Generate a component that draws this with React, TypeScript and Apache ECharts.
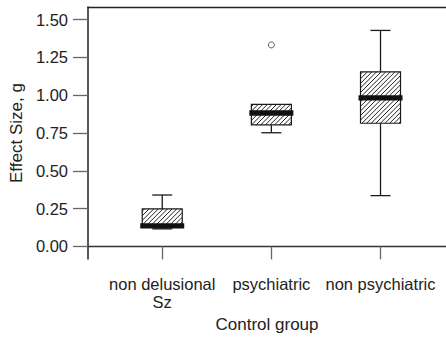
import React, { useEffect, useRef } from "react";
import * as echarts from "echarts";

const categories = ["non delusional\nSz", "psychiatric", "non psychiatric"];
const whiskerLow = [0.116, 0.752, 0.336];
const q1 = [0.125, 0.804, 0.815];
const median = [0.136, 0.883, 0.983];
const q3 = [0.248, 0.94, 1.155];
const whiskerHigh = [0.34, 0.94, 1.429];
const outliers = [[2, 1.333]];
const yTicks = [0, 0.25, 0.5, 0.75, 1, 1.25, 1.5];
const xTicks = [1, 2, 3];

const FONT = "Liberation Sans, Arial, sans-serif";

export default function App() {
  const ref = useRef<HTMLDivElement>(null);
  useEffect(() => {
    if (!ref.current) return;
    const chart = echarts.init(ref.current, null, { renderer: "svg" });
    const boxData = categories.map((_, i) => [
      i + 1,
      whiskerLow[i],
      q1[i],
      median[i],
      q3[i],
      whiskerHigh[i],
    ]);

    const renderItem = (params: any, api: any) => {
      const x = api.value(0);
      const lo = api.coord([x, api.value(1)]);
      const b1 = api.coord([x, api.value(2)]);
      const md = api.coord([x, api.value(3)]);
      const b3 = api.coord([x, api.value(4)]);
      const hi = api.coord([x, api.value(5)]);
      const cx = md[0];
      const boxW = 40;
      const capW = 20;
      const medW = 44;
      const x0 = cx - boxW / 2;
      const y0 = b3[1];
      const h = b1[1] - b3[1];
      const children: any[] = [];
      const lineStyle = { stroke: "#1a1a1a", lineWidth: 1.3 };
      if (hi[1] < y0 - 0.5) {
        children.push({ type: "line", shape: { x1: cx, y1: y0, x2: cx, y2: hi[1] }, style: lineStyle });
        children.push({ type: "line", shape: { x1: cx - capW / 2, y1: hi[1], x2: cx + capW / 2, y2: hi[1] }, style: lineStyle });
      }
      if (lo[1] > b1[1] + 0.5) {
        children.push({ type: "line", shape: { x1: cx, y1: b1[1], x2: cx, y2: lo[1] }, style: lineStyle });
        children.push({ type: "line", shape: { x1: cx - capW / 2, y1: lo[1], x2: cx + capW / 2, y2: lo[1] }, style: lineStyle });
      }
      children.push({ type: "rect", shape: { x: x0, y: y0, width: boxW, height: h }, style: { fill: "#fff", stroke: "none" } });
      const step = 4.6;
      const cStart = x0 + y0;
      const cEnd = x0 + boxW + y0 + h;
      for (let c = cStart + step / 2; c < cEnd; c += step) {
        const xa = Math.max(x0, c - (y0 + h));
        const xb = Math.min(x0 + boxW, c - y0);
        if (xb - xa < 0.3) continue;
        children.push({
          type: "line",
          shape: { x1: xa, y1: c - xa, x2: xb, y2: c - xb },
          style: { stroke: "#222", lineWidth: 1 },
        });
      }
      children.push({ type: "rect", shape: { x: x0, y: y0, width: boxW, height: h }, style: { fill: "none", stroke: "#1a1a1a", lineWidth: 1.2 } });
      children.push({ type: "rect", shape: { x: cx - medW / 2, y: md[1] - 2.7, width: medW, height: 5.4 }, style: { fill: "#111" } });
      return { type: "group", children };
    };

    chart.setOption({
      animation: false,
      textStyle: { fontFamily: FONT },
      grid: { left: 88, top: 7, right: 0, bottom: 73 },
      xAxis: [
        {
          type: "value",
          min: 0.32,
          max: 3.6,
          name: "Control group",
          nameLocation: "middle",
          nameGap: 51,
          nameTextStyle: { fontSize: 17, color: "#222", fontFamily: FONT },
          axisLine: { show: true, lineStyle: { color: "#333", width: 1.3 } },
          axisTick: { show: true, customValues: xTicks, length: 13, lineStyle: { color: "#666", width: 1.3 } },
          axisLabel: {
            customValues: xTicks,
            formatter: (v: number) => categories[Math.round(v) - 1] ?? "",
            fontSize: 16.5,
            lineHeight: 18,
            margin: 16,
            color: "#222",
            fontFamily: FONT,
          },
          splitLine: { show: false },
        },
        {
          type: "value",
          position: "top",
          min: 0.32,
          max: 3.6,
          axisLine: { show: true, lineStyle: { color: "#222", width: 1.3 } },
          axisTick: { show: false },
          axisLabel: { show: false },
          splitLine: { show: false },
        },
      ],
      yAxis: {
        type: "value",
        min: -0.084,
        max: 1.584,
        name: "Effect Size, g",
        nameLocation: "middle",
        nameGap: 62,
        nameTextStyle: { fontSize: 17, color: "#222", fontFamily: FONT },
        axisLine: { show: true, lineStyle: { color: "#222", width: 1.5 } },
        axisTick: { show: true, customValues: yTicks, length: 15, lineStyle: { color: "#666", width: 1.3 } },
        axisLabel: {
          customValues: yTicks,
          formatter: (v: number) => v.toFixed(2),
          fontSize: 16.5,
          margin: 20,
          color: "#222",
          fontFamily: FONT,
        },
        splitLine: { show: false },
      },
      series: [
        {
          type: "custom",
          xAxisIndex: 0,
          renderItem,
          data: boxData,
          encode: { x: 0, y: [1, 2, 3, 4, 5] },
          clip: false,
        },
        {
          type: "scatter",
          xAxisIndex: 0,
          data: outliers,
          symbol: "circle",
          symbolSize: 6,
          itemStyle: { color: "#fff", borderColor: "#333", borderWidth: 1 },
        },
      ],
    });
    return () => chart.dispose();
  }, []);
  return <div ref={ref} style={{ width: 446, height: 338, position: "absolute", left: 0, top: 0 }} />;
}
